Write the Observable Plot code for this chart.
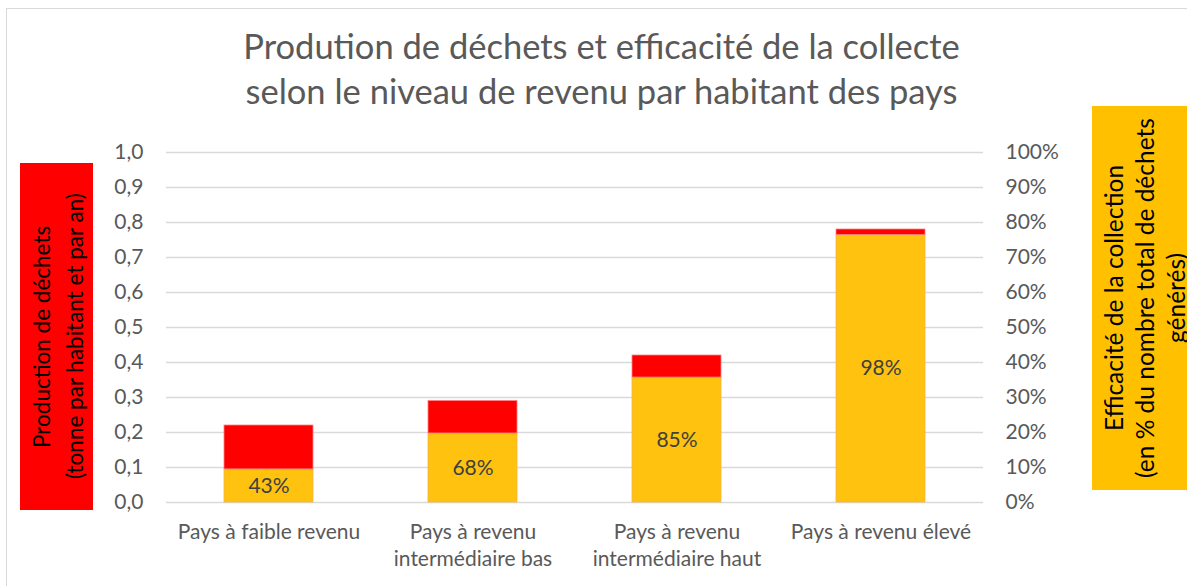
<!DOCTYPE html>
<html>
<head>
<meta charset="utf-8">
<script src="https://cdn.jsdelivr.net/npm/d3@7"></script>
<script src="https://cdn.jsdelivr.net/npm/@observablehq/plot@0.6"></script>
<style>
  html, body { margin: 0; padding: 0; background: #fff; }
  #wrap { position: relative; width: 1187px; height: 586px; overflow: hidden; font-family: Lato, "Open Sans", sans-serif; }
  #frame { position: absolute; left: 6px; top: 8px; width: 1300px; height: 700px; border: 1.5px solid #d9d9d9; box-sizing: border-box; }
  #title { position: absolute; left: 0; width: 1203px; top: 23px; text-align: center; color: #595959; font-size: 34.5px; line-height: 45px; }
  .box { position: absolute; }
  .vtext { position: absolute; top: 0; writing-mode: vertical-rl; transform: rotate(180deg); text-align: center; white-space: nowrap; color: #000; }
  #chart { position: absolute; left: 0; top: 0; }
</style>
</head>
<body>
<div id="wrap">
  <div id="frame"></div>
  <div id="title">Prodution de déchets et efficacité de la collecte<br>selon le niveau de revenu par habitant des pays</div>
  <div class="box" id="leftBox" style="left:20px;top:163px;width:73px;height:347px;background:#ff0000;">
    <div class="vtext" style="left:5px;height:347px;font-size:22.5px;line-height:33px;">Production de déchets<br>(tonne par habitant et par an)</div>
  </div>
  <div class="box" id="rightBox" style="left:1092px;top:106px;width:120px;height:384px;background:#ffc000;">
    <div class="vtext" style="left:6px;height:384px;font-size:24.5px;line-height:31px;">Efficacité de la collection<br>(en % du nombre total de déchets<br>générés)</div>
  </div>
  <div id="chart"></div>
</div>
<script>
// Data
const categories = ["Pays à faible revenu", "Pays à revenu\nintermédiaire bas", "Pays à revenu\nintermédiaire haut", "Pays à revenu élevé"];
const production = [0.22, 0.29, 0.42, 0.78];   // tonne par habitant et par an
const efficiency = [0.43, 0.68, 0.85, 0.98];   // efficacité de la collecte
const yTicks = [0, 0.1, 0.2, 0.3, 0.4, 0.5, 0.6, 0.7, 0.8, 0.9, 1.0];

const rows = categories.map((c, i) => ({
  cat: c,
  prod: production[i],
  eff: efficiency[i],
  collected: production[i] * efficiency[i]
}));

const comma = d => d3.format(".1f")(d).replace(".", ",");
const pct = d => Math.round(d * 100) + "%";

const chart = Plot.plot({
  width: 1187,
  height: 586,
  marginLeft: 166,
  marginRight: 204,
  marginTop: 152,
  marginBottom: 84,
  style: { fontFamily: "Lato, 'Open Sans', sans-serif", background: "transparent", overflow: "visible" },
  x: { domain: categories, paddingInner: 0.566, paddingOuter: 0.283, label: null },
  y: { domain: [0, 1], label: null },
  marks: [
    Plot.gridY(yTicks, { stroke: "#d9d9d9", strokeOpacity: 1, strokeWidth: 1.5 }),
    Plot.barY(rows, { x: "cat", y1: 0, y2: "collected", fill: "#ffc20e", stroke: "#f8b24a", strokeWidth: 0.8 }),
    Plot.barY(rows, { x: "cat", y1: "collected", y2: "prod", fill: "#ff0000", stroke: "#ff8080", strokeWidth: 0.8 }),
    Plot.text(rows, { x: "cat", y: d => d.collected / 2, text: d => pct(d.eff), fill: "#404040", fontSize: 21 }),
    Plot.axisY(yTicks, { anchor: "left", tickSize: 0, tickPadding: 23, tickFormat: comma, fontSize: 21, fill: "#595959", label: null }),
    Plot.axisY(yTicks, { anchor: "right", tickSize: 0, tickPadding: 22, tickFormat: pct, fontSize: 21, fill: "#595959", label: null }),
    Plot.axisX({ tickSize: 0, tickPadding: 17, fontSize: 21, fill: "#595959", lineHeight: 1.3, label: null })
  ]
});
document.getElementById("chart").appendChild(chart);
</script>
</body>
</html>
